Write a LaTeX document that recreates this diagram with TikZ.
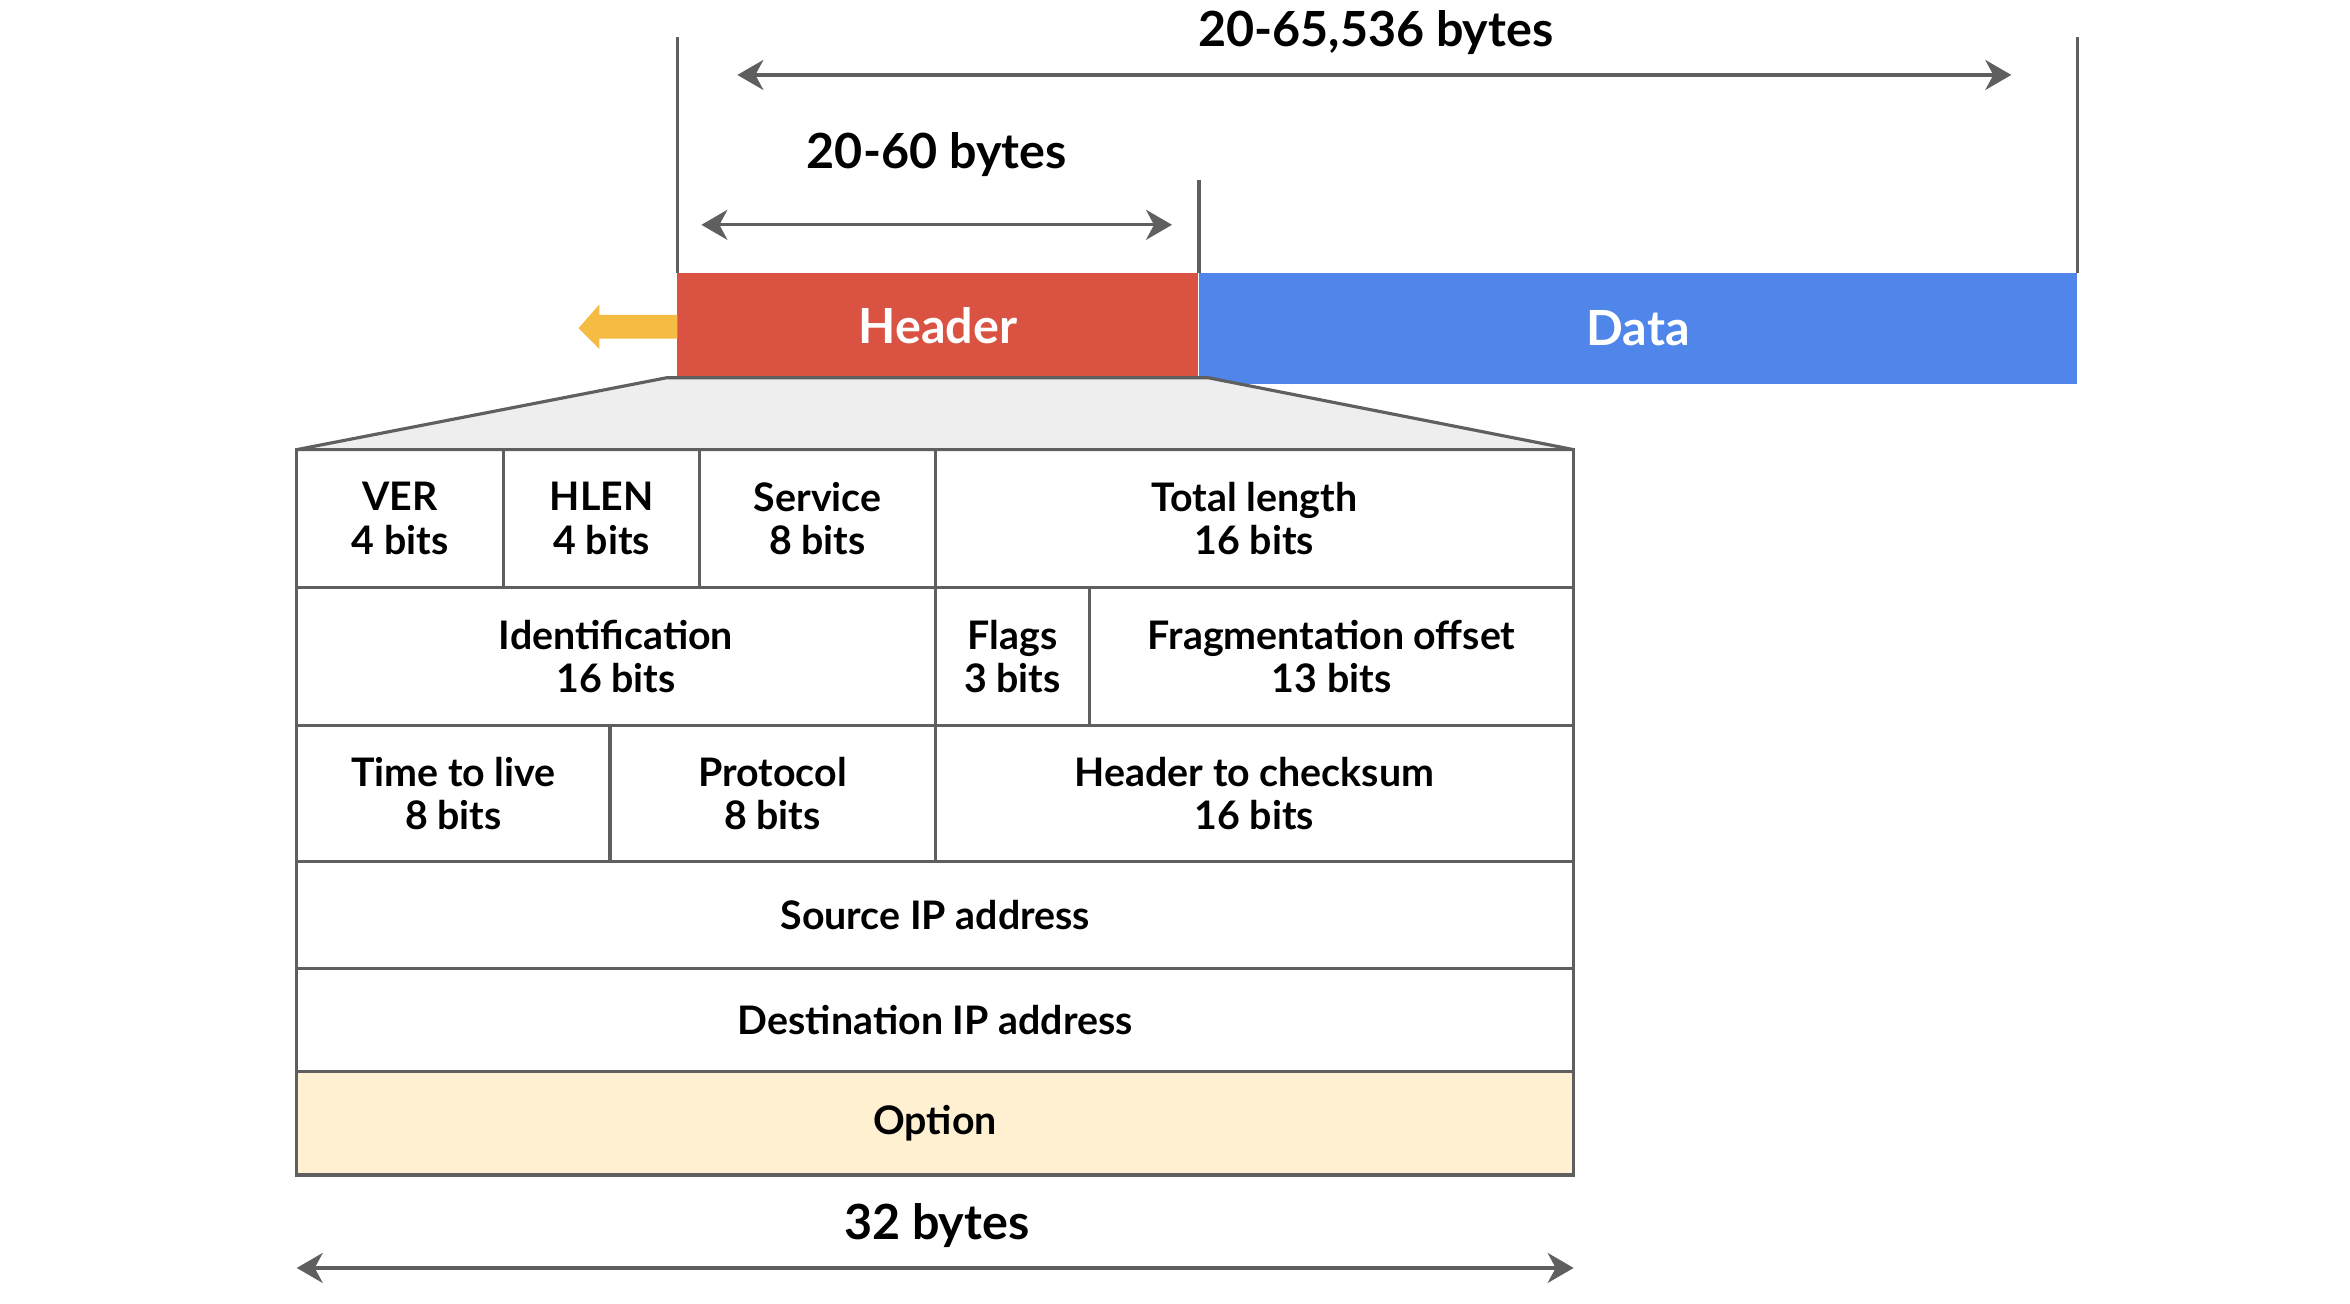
\documentclass[tikz,border=0pt]{standalone}
\usepackage{fontspec}
\setmainfont{Lato}
\usetikzlibrary{arrows.meta}

\definecolor{hdrred}{HTML}{DA5242}
\definecolor{datablue}{HTML}{5086EA}
\definecolor{arrowgold}{HTML}{F4BC42}
\definecolor{optcream}{HTML}{FEF0D0}
\definecolor{trapgray}{HTML}{EEEEEE}
\definecolor{linegray}{HTML}{5F5F5F}

\newcommand{\fieldfont}{\bfseries\fontsize{11.2}{12.4}\selectfont}
\newcommand{\sizefont}{\bfseries\fontsize{13.8}{15}\selectfont}

\tikzset{
  cellbox/.style 2 args={draw=linegray, line width=0.9pt, minimum width=#1*0.015cm,
    minimum height=#2*0.015cm, inner sep=0pt, outer sep=0pt, align=center, font=\fieldfont},
  dimarrow/.style={draw=linegray, line width=0.9pt,
    {Stealth[length=0.26cm,width=0.3cm,inset=0.08cm]}-{Stealth[length=0.26cm,width=0.3cm,inset=0.08cm]}},
  extline/.style={draw=linegray, line width=0.9pt},
}

\begin{document}
\begin{tikzpicture}[x=0.015cm, y=-0.015cm]
\useasboundingbox (0,0) rectangle (1568,870);

% packet
\begin{scope}[every node/.style={inner sep=0pt, outer sep=0pt, anchor=north west, text=white, font=\sizefont}]
    \node[fill=hdrred, minimum width=347.5*0.015cm, minimum height=70*0.015cm] (hdr) at (452,182) {};
    \node[fill=datablue, minimum width=586*0.015cm, minimum height=74*0.015cm] (data) at (800,182) {};
\end{scope}
\node[text=white, font=\sizefont] (hdrtext) at (hdr.center) {Header};
\node[text=white, font=\sizefont] (datatext) at (data.center) {Data};

% arrow pointing back out of the header
\coordinate (back) at (386,219);
\fill[arrowgold] (hdr.west) ++(0,-7) -- ++(-52,0) -- ++(0,-7) -- (back)
    -- ++(14,14) -- ++(0,-7) -- ++(52,0) -- cycle;

% extension lines and sizes
\coordinate (ext1) at (452,25);
\coordinate (ext2) at (1386,25);
\coordinate (ext3) at (800,120);
\draw[extline] (hdr.north west) -- (ext1);
\draw[extline] (data.north east) -- (ext2);
\draw[extline] (data.north west) -- (ext3);

\coordinate (alll) at (492,50);
\coordinate (allr) at (1342,50);
\coordinate (hdrl) at (468,150);
\coordinate (hdrr) at (782,150);
\coordinate (rowl) at (198,846);
\coordinate (rowr) at (1050,846);
\draw[dimarrow] (alll) -- (allr);
\draw[dimarrow] (hdrl) -- (hdrr);
\draw[dimarrow] (rowl) -- (rowr);

\begin{scope}[every node/.style={font=\sizefont}]
    \node (alltext) at (918,22) {20-65,536 bytes};
    \node (hdrsize) at (625,103) {20-60 bytes};
    \node (rowsize) at (625,818) {32 bytes};
\end{scope}

% zoom out of the header
\draw[draw=linegray, line width=0.9pt, fill=trapgray] (445,252) -- (806,252) -- (1050,300) -- (198,300) -- cycle;

% header fields
\node[cellbox={138}{92}] (ver) at (267,346) {VER\\4 bits};
\node[cellbox={131}{92}] (hlen) at (401.5,346) {HLEN\\4 bits};
\node[cellbox={157}{92}] (service) at (545.5,346) {Service\\8 bits};
\node[cellbox={426}{92}] (total) at (837,346) {Total length\\16 bits};

\node[cellbox={426}{92}] (ident) at (411,438) {Identification\\16 bits};
\node[cellbox={103}{92}] (flags) at (675.5,438) {Flags\\3 bits};
\node[cellbox={323}{92}] (frag) at (888.5,438) {Fragmentation offset\\13 bits};

\node[cellbox={209}{91}] (ttl) at (302.5,529.5) {Time to live\\8 bits};
\node[cellbox={217}{91}] (proto) at (515.5,529.5) {Protocol\\8 bits};
\node[cellbox={426}{91}] (checksum) at (837,529.5) {Header to checksum\\16 bits};

\node[cellbox={852}{71}] (srcip) at (624,610.5) {Source IP address};
\node[cellbox={852}{69}] (dstip) at (624,680.5) {Destination IP address};
\node[cellbox={852}{69}, fill=optcream] (option) at (624,749.5) {Option};

\end{tikzpicture}
\end{document}
